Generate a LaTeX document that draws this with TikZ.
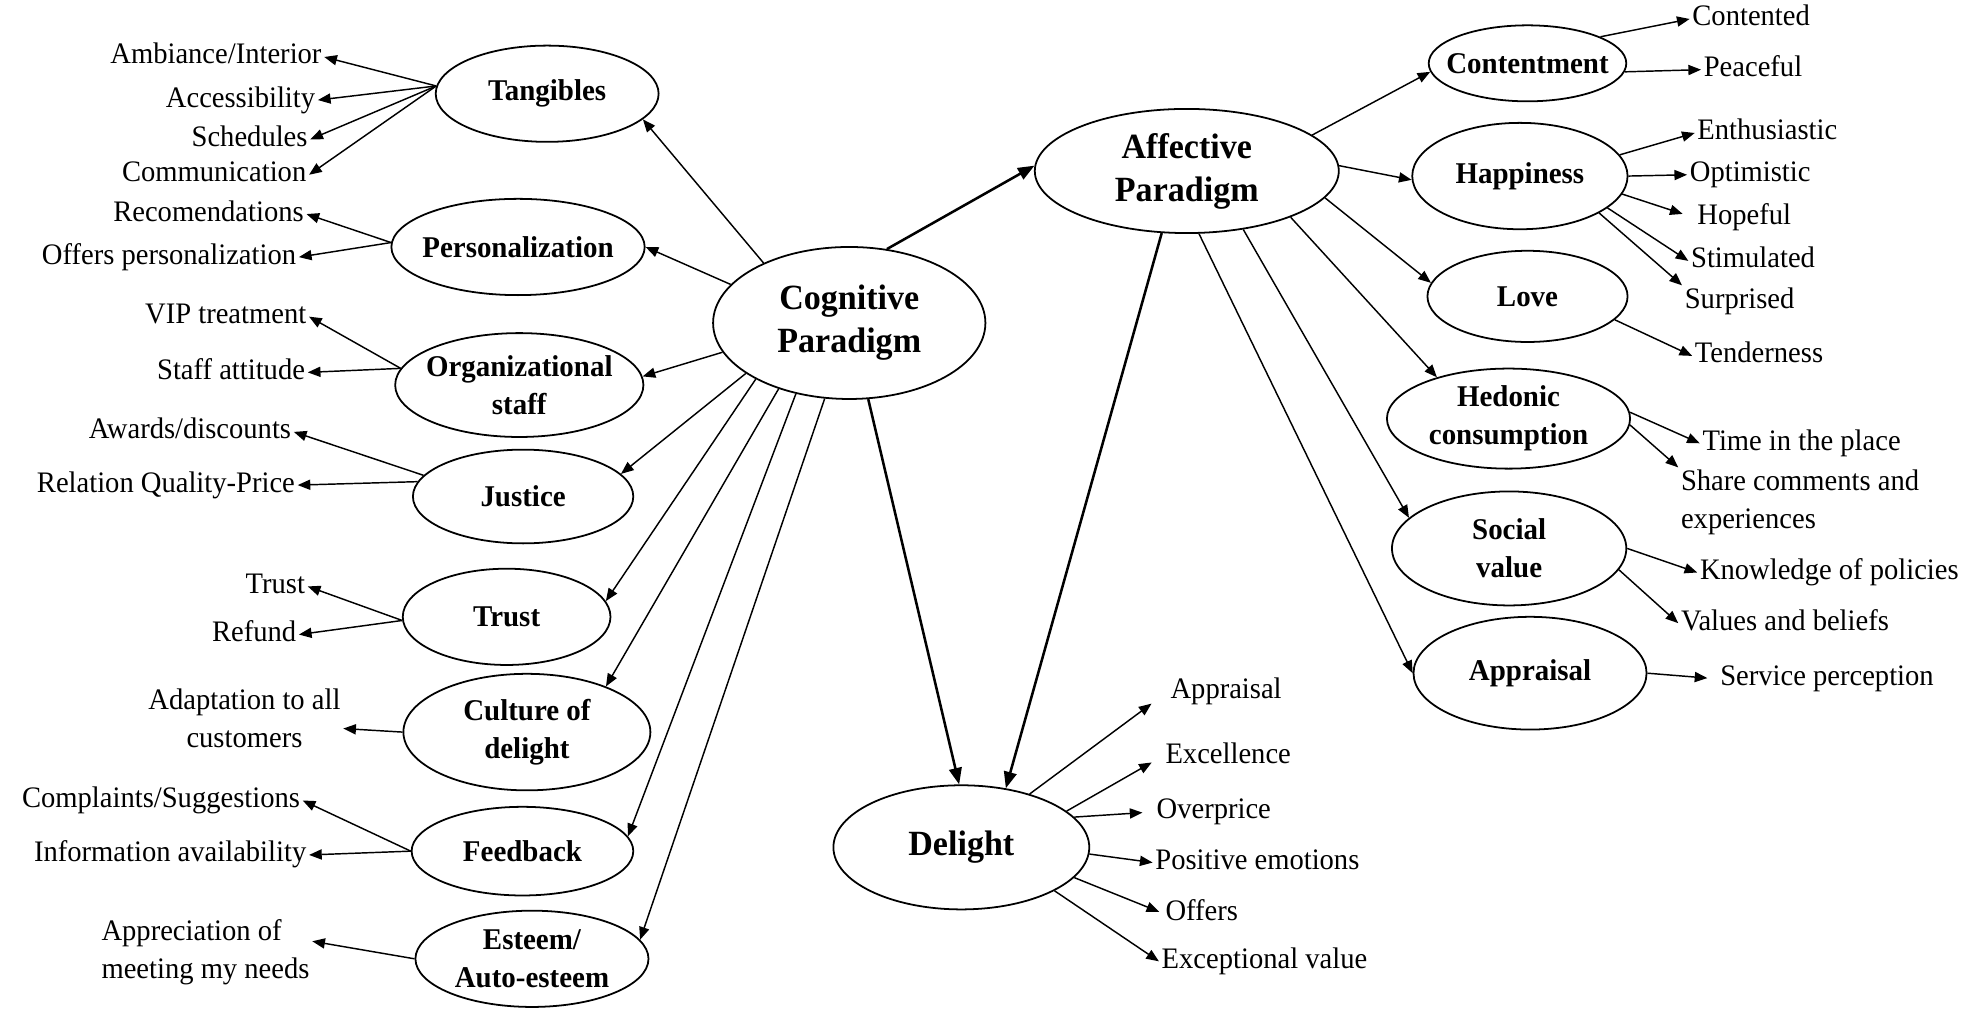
\documentclass[tikz,border=0pt]{standalone}
\usepackage{fontspec}
\setmainfont{Liberation Serif}[FakeStretch=0.96]
\usetikzlibrary{shapes.geometric,arrows.meta}
\newcommand\leaffont{\fontsize{23.5}{30}\selectfont}
\newcommand\catfont{\fontsize{23.8}{30}\selectfont\bfseries}
\newcommand\parfont{\fontsize{28}{34}\selectfont\bfseries}

\begin{document}
\begin{tikzpicture}[x=1pt,y=-1pt,
  oval/.style 2 args={ellipse,draw,line width=1.4pt,minimum width=#1pt,minimum height=#2pt,inner sep=0pt},
  leaf/.style={font=\leaffont,inner sep=2pt,text height=16pt,text depth=5pt},
  note/.style={font=\leaffont,inner sep=2pt},
  arr/.style={-{Triangle[length=10pt,width=8pt]},line width=1.15pt},
  bigarr/.style={-{Triangle[length=13pt,width=10pt]},line width=2pt}]
\useasboundingbox (0,0) rectangle (1568,797);

\node[oval={215}{120},label={[font=\parfont,align=center]center:Cognitive\\Paradigm}] (cog) at (670.5,255) {};
\node[oval={240}{98},label={[font=\parfont,align=center]center:Affective\\Paradigm}] (aff) at (937,135) {};
\node[oval={202}{98},label={[font=\parfont]center:Delight}] (del) at (759,669) {};

\node[oval={176}{76},label={[font=\catfont]center:Tangibles}] (tang) at (432,74) {};
\node[oval={200}{76},label={[font=\catfont]center:Personalization}] (pers) at (409,195) {};
\node[oval={196}{82},label={[font=\catfont,align=center]center:Organizational\\staff}] (org) at (410,304) {};
\node[oval={174}{74},label={[font=\catfont]center:Justice}] (just) at (413,392) {};
\node[oval={164}{76},label={[font=\catfont]center:Trust}] (trus) at (400,487) {};
\node[oval={195}{92},label={[font=\catfont,align=center]center:Culture of\\delight}] (cult) at (416,578) {};
\node[oval={175}{70},label={[font=\catfont]center:Feedback}] (feed) at (412.5,672) {};
\node[oval={184}{76},label={[font=\catfont,align=center]center:Esteem/\\Auto-esteem}] (este) at (420,757) {};

\node[oval={156}{60},label={[font=\catfont]center:Contentment}] (cont) at (1206,50) {};
\node[oval={170}{84},label={[font=\catfont]center:Happiness}] (happ) at (1200,139) {};
\node[oval={158}{72},label={[font=\catfont]center:Love}] (love) at (1206,234) {};
\node[oval={192}{79},label={[font=\catfont,align=center]center:Hedonic\\consumption}] (hedo) at (1191,330.5) {};
\node[oval={185}{90},label={[font=\catfont,align=center]center:Social\\value}] (soci) at (1191.5,433) {};
\node[oval={184}{89},label={[font=\catfont]center:Appraisal}] (appr) at (1208,531.5) {};

\node[leaf,anchor=east] (amb) at (256,45) {Ambiance/Interior};
\node[leaf,anchor=east] (acc) at (251,79) {Accessibility};
\node[leaf,anchor=east] (sch) at (245,110) {Schedules};
\node[leaf,anchor=east] (com) at (244,138) {Communication};
\node[leaf,anchor=east] (rec) at (242,169) {Recomendations};
\node[leaf,anchor=east] (offp) at (236,203) {Offers personalization};
\node[leaf,anchor=east] (vip) at (244,250) {VIP treatment};
\node[leaf,anchor=east] (staff) at (243,294) {Staff attitude};
\node[leaf,anchor=east] (awd) at (232,341) {Awards/discounts};
\node[leaf,anchor=east] (rel) at (235,383) {Relation Quality-Price};
\node[leaf,anchor=east] (tru) at (243,463) {Trust};
\node[leaf,anchor=east] (ref) at (236,501) {Refund};
\node[note,align=center] (adapt) at (193,567) {Adaptation to all\\customers};
\node[leaf,anchor=east] (compl) at (239,632) {Complaints/Suggestions};
\node[leaf,anchor=east] (info) at (244,675) {Information availability};
\node[note,align=left,anchor=west] (apprec) at (78,752) {Appreciation of\\meeting my needs};

\node[leaf,anchor=west] (conted) at (1334,15) {Contented};
\node[leaf,anchor=west] (peace) at (1343,55) {Peaceful};
\node[leaf,anchor=west] (enth) at (1338,105) {Enthusiastic};
\node[leaf,anchor=west] (opti) at (1332,138) {Optimistic};
\node[leaf,anchor=west] (hope) at (1338,172) {Hopeful};
\node[leaf,anchor=west] (stim) at (1333,206) {Stimulated};
\node[leaf,anchor=west] (surp) at (1328,238) {Surprised};
\node[leaf,anchor=west] (tend) at (1336,281) {Tenderness};
\node[leaf,anchor=west] (time) at (1342,350) {Time in the place};
\node[note,align=left,anchor=north west] (share) at (1325,369) {Share comments and\\experiences};
\node[leaf,anchor=west] (know) at (1340,452) {Knowledge of policies};
\node[leaf,anchor=west] (vals) at (1325,492) {Values and beliefs};
\node[leaf,anchor=west] (serv) at (1356,536) {Service perception};

\node[leaf,anchor=west] (dappr) at (922,546) {Appraisal};
\node[leaf,anchor=west] (dexc) at (918,597) {Excellence};
\node[leaf,anchor=west] (dover) at (911,641) {Overprice};
\node[leaf,anchor=west] (dpos) at (910,681) {Positive emotions};
\node[leaf,anchor=west] (doff) at (918,721) {Offers};
\node[leaf,anchor=west] (dexv) at (915,759) {Exceptional value};

\draw[bigarr] (cog.63) -- (aff.178);
\draw[bigarr] (cog.284) -- (del.92);
\draw[bigarr] (aff.248) -- (del.53);

\draw[arr] (cog.145) -- (tang.345);
\draw[arr] (cog.162) -- (pers.0);
\draw[arr] (cog.193) -- (org.4);
\draw[arr] (cog.206) -- (just.13);
\draw[arr] (cog.211) -- (trus.9);
\draw[arr] (cog.223) -- (cult.30);
\draw[arr] (cog.233) -- (feed.8);
\draw[arr] (cog.252) -- (este.10);

\draw[arr] (tang.176) -- (amb.east);
\draw[arr] (tang.176) -- (acc.east);
\draw[arr] (tang.176) -- (sch.east);
\draw[arr] (tang.176) -- (com.east);
\draw[arr] (pers.178) -- (rec.east);
\draw[arr] (pers.178) -- (offp.east);
\draw[arr] (org.172) -- (vip.east);
\draw[arr] (org.172) -- (staff.east);
\draw[arr] (just.168) -- (awd.east);
\draw[arr] (just.172) -- (rel.east);
\draw[arr] (trus.182) -- (tru.east);
\draw[arr] (trus.182) -- (ref.east);
\draw[arr] (cult.west) -- (adapt.-6);
\draw[arr] (feed.west) -- (compl.east);
\draw[arr] (feed.west) -- (info.east);
\draw[arr] (este.west) -- (apprec.6);

\draw[arr] (aff.16) -- (cont.185);
\draw[arr] (aff.2) -- (happ.182);
\draw[arr] (aff.349) -- (love.172);
\draw[arr] (aff.336) -- (hedo.150);
\draw[arr] (aff.314) -- (soci.163);
\draw[arr] (aff.281) -- (appr.180);

\draw[arr] (cont.20) -- (conted.west);
\draw[arr] (cont.-5) -- (peace.west);
\draw[arr] (happ.12) -- (enth.west);
\draw[arr] (happ.0) -- (opti.west);
\draw[arr,shorten >=10pt] (happ.-10) -- (hope.west);
\draw[arr] (happ.-20) -- (stim.west);
\draw[arr] (happ.-25) -- (surp.north west);
\draw[arr] (love.-15) -- (tend.west);
\draw[arr] (hedo.3) -- (time.west);
\draw[arr] (hedo.-3) -- (share.north west);
\draw[arr] (soci.0) -- (know.west);
\draw[arr] (soci.-11) -- (vals.west);
\draw[arr,shorten >=8pt] (appr.east) -- (serv.west);

\draw[arr,shorten >=16pt] (del.38) -- (dappr.west);
\draw[arr,shorten >=10pt] (del.19) -- (dexc.west);
\draw[arr,shorten >=9pt] (del.15) -- (dover.west);
\draw[arr] (del.-3) -- (dpos.west);
\draw[arr,shorten >=3pt] (del.-15) -- (doff.west);
\draw[arr] (del.-25) -- (dexv.west);
\end{tikzpicture}
\end{document}
